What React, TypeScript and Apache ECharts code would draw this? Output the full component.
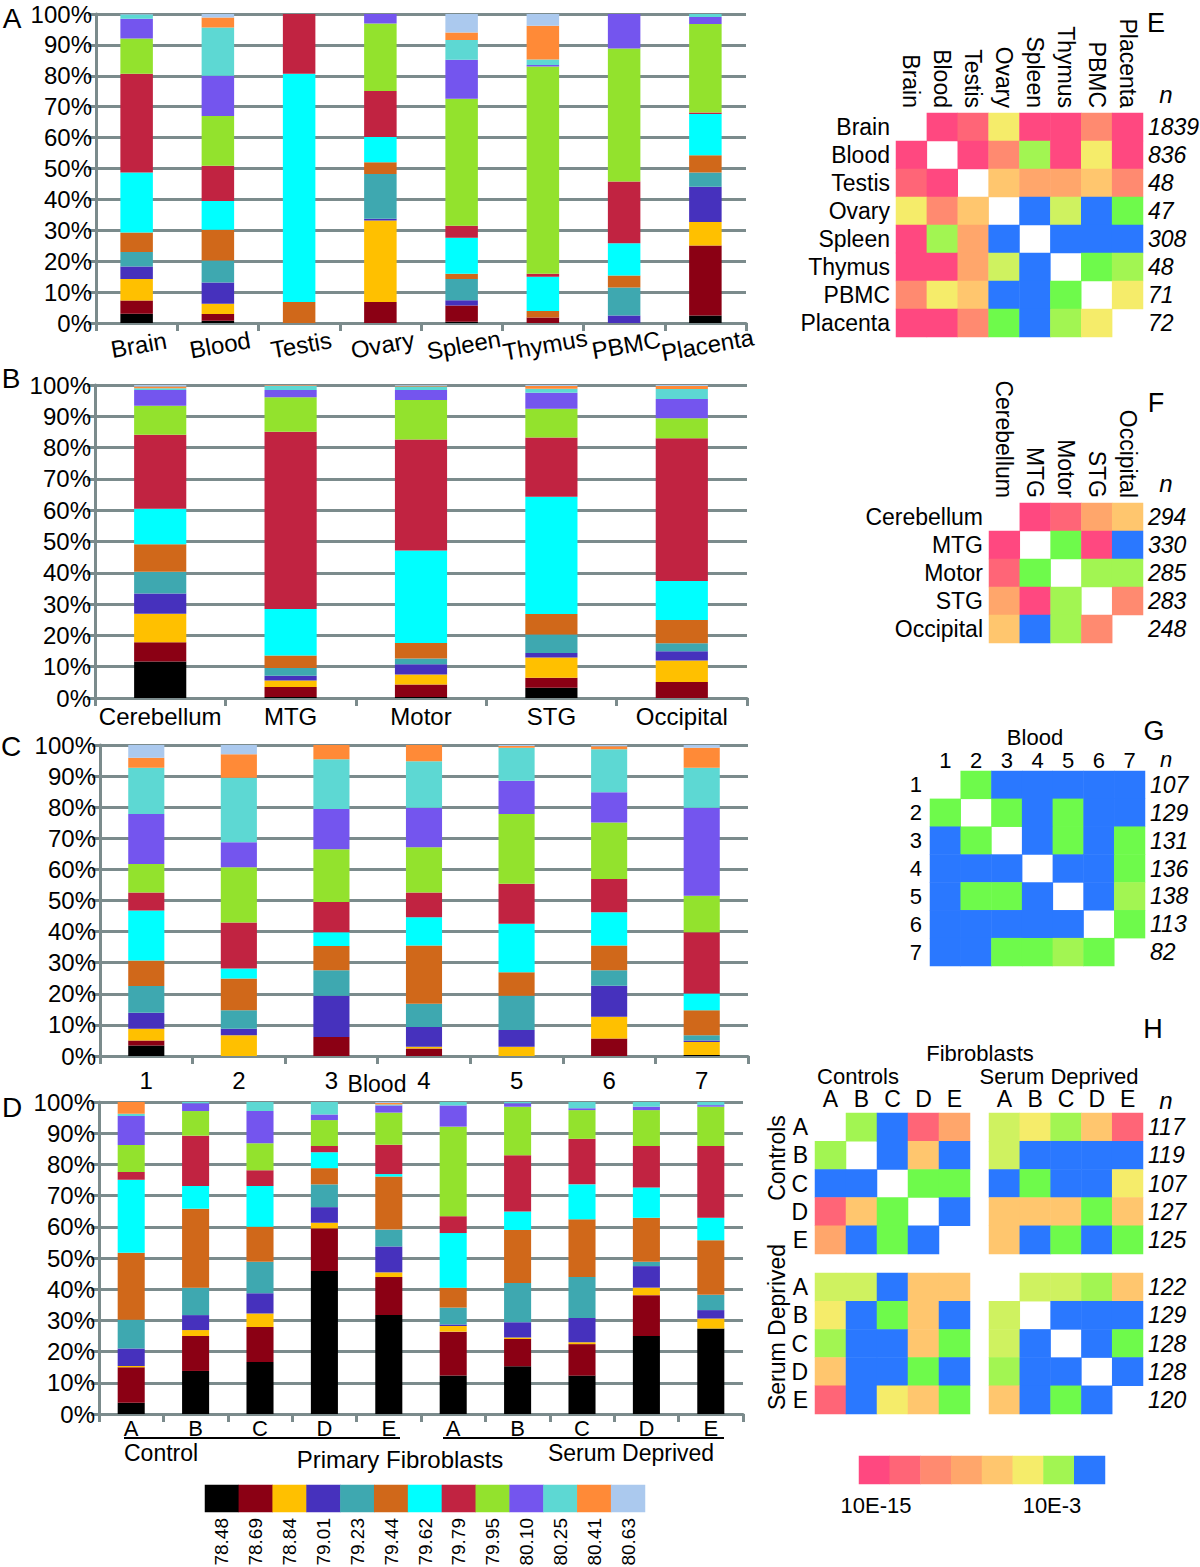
import React, { useEffect, useRef } from 'react';
import * as echarts from 'echarts';

const FONT = '"Liberation Sans", Arial, Helvetica, sans-serif';
const GRAY = '#7b8b8c';
const TXT = '#000000';

// melting temperature classes (legend)
const segLabels = ['78.48', '78.69', '78.84', '79.01', '79.23', '79.44', '79.62', '79.79', '79.95', '80.10', '80.25', '80.41', '80.63'];
const segColors = ['#000000', '#8b0014', '#ffc000', '#4631bd', '#3ea8b0', '#d0681a', '#00ffff', '#c12341', '#93e22d', '#7455ee', '#5dd8d3', '#ff8a37', '#abc9ee'];

// Panel A
const catsA = ['Brain', 'Blood', 'Testis', 'Ovary', 'Spleen', 'Thymus', 'PBMC', 'Placenta'];
const valsA = [
  [3.0, 4.3, 6.9, 4.1, 4.7, 6.3, 19.4, 32.0, 11.4, 6.4, 1.3, 0, 0.2],
  [0.75, 2.15, 3.35, 6.85, 7.1, 10.0, 9.3, 11.4, 16.1, 13.0, 15.6, 3.3, 1.1],
  [0, 0, 0, 0, 0, 6.8, 73.9, 19.3, 0, 0, 0, 0, 0],
  [0, 6.8, 26.4, 0.5, 14.5, 3.8, 8.2, 14.9, 21.8, 3.1, 0, 0, 0],
  [0.4, 5.3, 0, 1.7, 6.8, 1.7, 11.7, 3.9, 41.1, 12.6, 6.4, 2.4, 6.0],
  [0, 1.8, 0, 0, 0, 2.1, 11.1, 0.9, 67.1, 0.5, 1.8, 10.9, 3.8],
  [0, 0, 0, 2.4, 9.1, 3.9, 10.4, 20.0, 43.0, 11.2, 0, 0, 0],
  [2.4, 22.7, 7.6, 11.4, 4.6, 5.6, 13.3, 0.5, 28.7, 2.2, 1.0, 0, 0],
];

// Panel B
const catsB = ['Cerebellum', 'MTG', 'Motor', 'STG', 'Occipital'];
const valsB = [
  [11.7, 6.1, 9.1, 6.5, 6.9, 8.8, 11.4, 23.6, 9.3, 5.0, 0.6, 0.5, 0.5],
  [0.3, 3.2, 2.1, 1.5, 2.5, 4.0, 14.8, 56.7, 11.0, 2.3, 1.3, 0.2, 0.1],
  [0.3, 4.0, 3.2, 3.3, 1.8, 5.0, 29.5, 35.5, 12.6, 3.2, 1.1, 0.3, 0.2],
  [3.3, 3.2, 6.4, 1.5, 5.9, 6.5, 37.5, 18.9, 9.2, 5.1, 1.3, 0.9, 0.3],
  [0, 5.1, 6.9, 2.9, 2.6, 7.4, 12.5, 45.6, 6.4, 6.1, 3.2, 1.0, 0.3],
];

// Panel C
const catsC = ['1', '2', '3', '4', '5', '6', '7'];
const valsC = [
  [3.4, 1.6, 3.8, 5.1, 8.6, 8.2, 16.1, 5.8, 9.1, 16.1, 14.9, 3.2, 4.1],
  [0, 0, 6.7, 2.1, 5.9, 10.2, 3.2, 14.8, 17.8, 8.0, 20.8, 7.5, 3.0],
  [0, 6.1, 0, 13.3, 8.2, 7.8, 4.4, 9.7, 17.0, 12.9, 16.0, 4.6, 0],
  [0, 2.4, 0.6, 6.3, 7.5, 18.7, 9.1, 8.0, 14.5, 12.7, 15.0, 5.2, 0],
  [0, 0, 3.0, 5.4, 11.0, 7.5, 15.6, 12.9, 22.4, 10.7, 10.6, 0.6, 0.3],
  [0, 5.6, 7.0, 10.0, 5.0, 7.9, 10.7, 10.7, 18.2, 9.7, 13.8, 1.0, 0.4],
  [0.3, 0, 4.2, 0.5, 1.7, 8.0, 5.4, 19.7, 11.7, 28.3, 12.9, 6.4, 0.9],
];

// Panel D
const catsD = ['A', 'B', 'C', 'D', 'E', 'A', 'B', 'C', 'D', 'E'];
const valsD = [
  [3.6, 11.4, 0.4, 5.6, 9.2, 21.5, 23.4, 2.5, 8.6, 9.3, 0.7, 3.8, 0],
  [13.8, 11.2, 1.9, 4.8, 8.8, 25.3, 7.3, 16.1, 7.9, 2.5, 0.4, 0, 0],
  [16.7, 11.2, 4.3, 6.5, 10.1, 11.2, 13.1, 5.0, 8.7, 10.3, 2.9, 0, 0],
  [45.8, 13.7, 1.8, 5.0, 7.3, 5.2, 5.1, 2.0, 8.3, 1.8, 4.0, 0, 0],
  [31.7, 12.2, 1.5, 8.3, 5.4, 17.0, 0.8, 9.4, 10.3, 2.3, 0.3, 0.5, 0.3],
  [12.3, 14.1, 1.8, 0.5, 5.4, 6.4, 17.5, 5.4, 28.7, 6.8, 1.1, 0, 0],
  [15.3, 8.7, 0.5, 4.9, 12.6, 17.0, 5.9, 18.0, 15.6, 1.1, 0.4, 0, 0],
  [12.3, 10.1, 0.6, 7.8, 13.1, 18.5, 11.2, 14.6, 9.2, 0.6, 2.0, 0, 0],
  [25.0, 13.1, 2.4, 6.9, 1.4, 14.1, 9.7, 13.3, 11.5, 1.1, 1.5, 0, 0],
  [27.4, 0, 3.2, 2.7, 4.9, 17.5, 7.2, 23.0, 12.6, 0.5, 1.0, 0, 0],
];

// heatmap significance levels: 0 = 10E-15 ... 9 = 10E-3
const heatColors = ['#ff4880', '#ff6577', '#ff8a70', '#ffa66b', '#ffc66e', '#f5ec6a', '#cff260', '#a2f552', '#6efa4b', '#2a78ff'];
const scaleLevels = [0, 1, 2, 3, 4, 5, 7, 9];
const N = null;

const tissueN = ['1839', '836', '48', '47', '308', '48', '71', '72'];
const matE = [
  [N, 0, 1, 5, 0, 0, 2, 0],
  [0, N, 0, 2, 7, 0, 5, 0],
  [1, 0, N, 4, 3, 3, 4, 2],
  [5, 2, 4, N, 9, 6, 9, 8],
  [0, 7, 3, 9, N, 9, 9, 9],
  [0, 0, 3, 6, 9, N, 8, 7],
  [2, 5, 4, 9, 9, 8, N, 5],
  [0, 0, 2, 8, 9, 7, 5, N],
];

const regionN = ['294', '330', '285', '283', '248'];
const matF = [
  [N, 0, 1, 3, 4],
  [0, N, 8, 0, 9],
  [1, 8, N, 7, 7],
  [3, 0, 7, N, 2],
  [4, 9, 7, 2, N],
];

const bloodCats = ['1', '2', '3', '4', '5', '6', '7'];
const bloodN = ['107', '129', '131', '136', '138', '113', '82'];
const matG = [
  [N, 8, 9, 9, 9, 9, 9],
  [8, N, 8, 9, 8, 9, 9],
  [9, 8, N, 9, 8, 9, 8],
  [9, 9, 9, N, 9, 9, 8],
  [9, 8, 8, 9, N, 9, 7],
  [9, 9, 9, 9, 9, N, 8],
  [9, 9, 8, 8, 7, 8, N],
];

const fibroCats = ['A', 'B', 'C', 'D', 'E'];
const ctrlN = ['117', '119', '107', '127', '125'];
const sdN = ['122', '129', '128', '128', '120'];
const matHcc = [
  [N, 7, 9, 1, 3],
  [7, N, 9, 4, 9],
  [9, 9, N, 8, 8],
  [1, 4, 8, N, 9],
  [3, 9, 8, 9, N],
];
const matHcs = [
  [6, 5, 7, 4, 1],
  [6, 9, 9, 9, 9],
  [9, 8, 9, 9, 5],
  [4, 4, 4, 8, 4],
  [4, 9, 8, 9, 8],
];
const matHsc = [
  [6, 6, 9, 4, 4],
  [5, 9, 8, 4, 9],
  [7, 9, 9, 4, 8],
  [4, 9, 9, 8, 9],
  [1, 9, 5, 4, 8],
];
const matHss = [
  [N, 6, 6, 7, 4],
  [6, N, 9, 9, 9],
  [6, 9, N, 9, 8],
  [7, 9, 9, N, 9],
  [4, 9, 8, 9, N],
];

function buildOption() {
  const grid: any[] = [];
  const xAxis: any[] = [];
  const yAxis: any[] = [];
  const series: any[] = [];
  const heatIdx: number[] = [];
  let legendIdx = -1;
  const font = (size: number, extra: any = {}) => ({ color: TXT, fontSize: size, fontFamily: FONT, ...extra });
  const hidden = { axisLine: { show: false }, axisTick: { show: false }, splitLine: { show: false }, splitArea: { show: false } };

  const barPanel = (cats: string[], vals: number[][], box: any, barWidth: string, label: any) => {
    const g = grid.length;
    grid.push({ ...box, outerBoundsMode: 'none', containLabel: false });
    const xi = xAxis.length;
    xAxis.push({
      gridIndex: g, type: 'category', data: cats,
      axisLine: { show: true, lineStyle: { color: GRAY, width: 3 } },
      axisTick: { show: true, length: 8, interval: 0, lineStyle: { color: GRAY, width: 3 } },
      axisLabel: { interval: 0, ...font(24), ...label },
    });
    const yi = yAxis.length;
    yAxis.push({
      gridIndex: g, type: 'value', min: 0, max: 100, interval: 10,
      axisLine: { show: true, lineStyle: { color: GRAY, width: 3 } },
      axisTick: { show: true, length: 8, lineStyle: { color: GRAY, width: 3 } },
      splitLine: { show: true, lineStyle: { color: GRAY, width: 3 } },
      axisLabel: { formatter: '{value}%', margin: 4, ...font(24) },
    });
    const norm = vals.map((r) => {
      const s = r.reduce((a, b) => a + b, 0);
      return r.map((v) => (v / s) * 100);
    });
    segColors.forEach((c, k) => {
      series.push({
        type: 'bar', xAxisIndex: xi, yAxisIndex: yi, stack: 'p' + g, barWidth,
        itemStyle: { color: c }, emphasis: { disabled: true },
        data: norm.map((r) => r[k]),
      });
    });
  };

  barPanel(catsA, valsA, { left: 96, top: 14, width: 650, height: 309 }, '40%', { rotate: 10, align: 'center', verticalAlign: 'top', margin: 10 });
  barPanel(catsB, valsB, { left: 95, top: 385, width: 652, height: 313 }, '40%', { margin: 6 });
  barPanel(catsC, valsC, { left: 100, top: 745, width: 648, height: 311 }, '39%', { margin: 12 });
  barPanel(catsD, valsD, { left: 99, top: 1102, width: 644, height: 312 }, '42%', { margin: 3, fontSize: 22 });

  const heat = (box: any, xCats: string[], yCats: string[], mat: (number | null)[][], o: any) => {
    const g = grid.length;
    grid.push({ ...box, outerBoundsMode: 'none', containLabel: false });
    const xi = xAxis.length;
    xAxis.push({
      gridIndex: g, type: 'category', data: xCats, position: 'top', ...hidden,
      axisLabel: { show: !!o.xLabel, interval: 0, rotate: o.xRotate || 0, margin: o.xMargin ?? 4, ...font(o.fs ?? 23) },
    });
    const yi = yAxis.length;
    yAxis.push({
      gridIndex: g, type: 'category', data: yCats, inverse: true, ...hidden,
      axisLabel: { show: !!o.yLabel, interval: 0, margin: o.yMargin ?? 6, ...font(o.fs ?? 23) },
    });
    if (o.n) {
      yAxis.push({
        gridIndex: g, type: 'category', data: o.n, inverse: true, position: 'right', ...hidden,
        axisLabel: { interval: 0, margin: 5, ...font(23, { fontStyle: 'italic' }) },
      });
    }
    const data: any[] = [];
    mat.forEach((row, r) => row.forEach((v, c) => { if (v !== null) data.push([c, r, v]); }));
    heatIdx.push(series.length);
    series.push({ type: 'heatmap', xAxisIndex: xi, yAxisIndex: yi, data, emphasis: { disabled: true } });
  };

  heat({ left: 896, top: 113, width: 247, height: 224 }, catsA, catsA, matE, { xLabel: true, xRotate: 90, xMargin: 5, yLabel: true, n: tissueN });
  heat({ left: 989, top: 503, width: 154, height: 140 }, catsB, catsB, matF, { xLabel: true, xRotate: 90, xMargin: 5, yLabel: true, n: regionN });
  heat({ left: 930, top: 771, width: 215, height: 195 }, bloodCats, bloodCats, matG, { xLabel: true, xMargin: 0, yLabel: true, yMargin: 8, fs: 22, n: bloodN });
  heat({ left: 815, top: 1113, width: 155, height: 141 }, fibroCats, fibroCats, matHcc, { xLabel: true, xMargin: 3, yLabel: true, yMargin: 7 });
  heat({ left: 989, top: 1113, width: 154, height: 141 }, fibroCats, fibroCats, matHcs, { xLabel: true, xMargin: 3, n: ctrlN });
  heat({ left: 815, top: 1273, width: 155, height: 141 }, fibroCats, fibroCats, matHsc, { yLabel: true, yMargin: 7 });
  heat({ left: 989, top: 1273, width: 154, height: 141 }, fibroCats, fibroCats, matHss, { n: sdN });

  // colour scale
  heat({ left: 859, top: 1456, width: 246, height: 28 }, scaleLevels.map(String), [''], [scaleLevels], {});

  // melting temperature legend
  {
    const g = grid.length;
    grid.push({ left: 205, top: 1485, width: 440, height: 27, outerBoundsMode: 'none', containLabel: false });
    const xi = xAxis.length;
    xAxis.push({
      gridIndex: g, type: 'category', data: segLabels, position: 'bottom', ...hidden,
      axisLabel: { interval: 0, rotate: 90, margin: 6, ...font(19) },
    });
    const yi = yAxis.length;
    yAxis.push({ gridIndex: g, type: 'category', data: [''], ...hidden, axisLabel: { show: false } });
    legendIdx = series.length;
    series.push({
      type: 'heatmap', xAxisIndex: xi, yAxisIndex: yi, emphasis: { disabled: true },
      data: segColors.map((_, i) => [i, 0, i]),
    });
  }

  const txt = (text: string, x: number, y: number, size: number, style: any = {}, el: any = {}) => ({
    type: 'text', x, y, silent: true, ...el,
    style: { text, fontSize: size, fontFamily: FONT, fill: TXT, align: 'center', verticalAlign: 'middle', ...style },
  });
  const line = (x1: number, y1: number, x2: number, y2: number) => ({
    type: 'line', silent: true, shape: { x1, y1, x2, y2 }, style: { stroke: TXT, lineWidth: 2 },
  });

  const graphic = [
    txt('A', 12, 18, 28), txt('B', 11, 378, 28), txt('C', 11, 746, 28), txt('D', 12, 1107, 28),
    txt('E', 1156, 23, 27), txt('F', 1156, 403, 27), txt('G', 1154, 731, 27), txt('H', 1153, 1029, 27),
    txt('n', 1166, 94, 24, { fontStyle: 'italic' }),
    txt('n', 1166, 483, 24, { fontStyle: 'italic' }),
    txt('n', 1166, 759, 22, { fontStyle: 'italic' }),
    txt('n', 1166, 1100, 24, { fontStyle: 'italic' }),
    txt('Blood', 1035, 737, 22),
    txt('Fibroblasts', 980, 1053, 22),
    txt('Controls', 858, 1076, 22),
    txt('Serum Deprived', 1059, 1076, 22),
    txt('Controls', 777, 1158, 23, {}, { rotation: Math.PI / 2 }),
    txt('Serum Deprived', 777, 1327, 23, {}, { rotation: Math.PI / 2 }),
    txt('10E-15', 876, 1505, 22),
    txt('10E-3', 1052, 1505, 22),
    txt('Blood', 377, 1084, 23),
    txt('Control', 124, 1453, 23, { align: 'left' }),
    txt('Primary Fibroblasts', 400, 1459, 24),
    txt('Serum Deprived', 631, 1453, 23),
    line(124, 1438, 400, 1438),
    line(443, 1438, 724, 1438),
  ];

  return {
    animation: false,
    backgroundColor: '#ffffff',
    textStyle: { fontFamily: FONT },
    grid, xAxis, yAxis, series, graphic,
    visualMap: [
      {
        type: 'piecewise', show: false, dimension: 2, seriesIndex: heatIdx,
        pieces: heatColors.map((c, i) => ({ value: i, color: c })),
      },
      {
        type: 'piecewise', show: false, dimension: 2, seriesIndex: [legendIdx],
        pieces: segColors.map((c, i) => ({ value: i, color: c })),
      },
    ],
  };
}

export default function App() {
  const ref = useRef<HTMLDivElement>(null);
  useEffect(() => {
    if (!ref.current) return;
    const chart = echarts.init(ref.current, undefined, { renderer: 'svg' });
    chart.setOption(buildOption() as any);
    return () => chart.dispose();
  }, []);
  return <div ref={ref} style={{ position: 'absolute', left: 0, top: 0, width: 1200, height: 1567, background: '#fff' }} />;
}
